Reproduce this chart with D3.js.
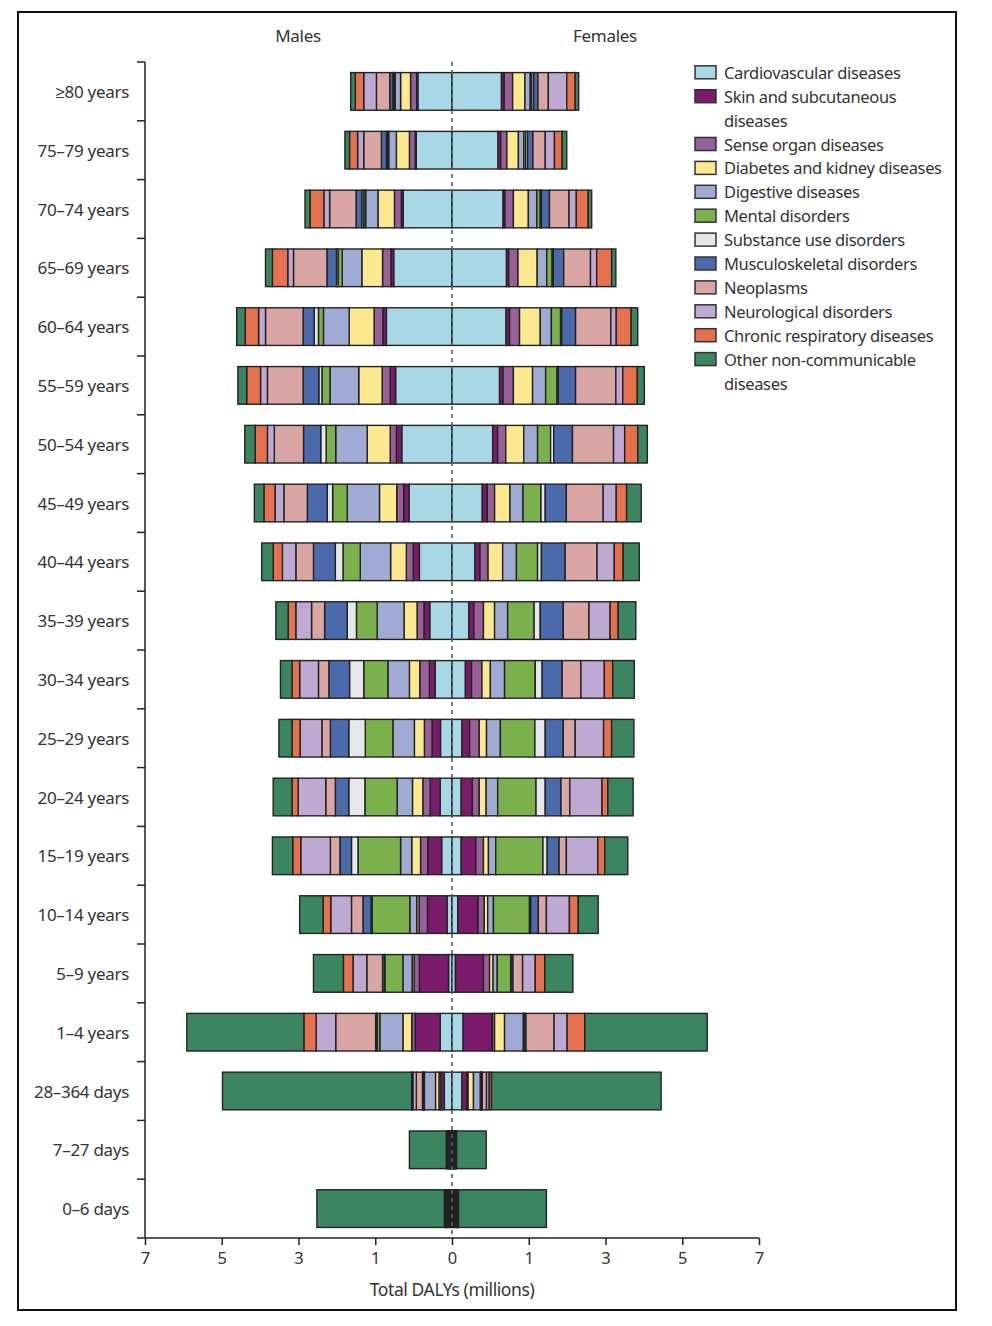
<!DOCTYPE html>
<html>
<head>
<meta charset="utf-8">
<script src="https://cdn.jsdelivr.net/npm/d3@7"></script>
<style>
  body { margin: 0; background: #fff; }
  text { font-family: "Noto Sans", "Open Sans", sans-serif; fill: #333; }
</style>
</head>
<body>
<script>
// ---------- DATA ----------
const ageGroups = ["≥80 years","75–79 years","70–74 years","65–69 years","60–64 years","55–59 years",
  "50–54 years","45–49 years","40–44 years","35–39 years","30–34 years","25–29 years","20–24 years",
  "15–19 years","10–14 years","5–9 years","1–4 years","28–364 days","7–27 days","0–6 days"];

const causes = ["Cardiovascular diseases","Skin and subcutaneous diseases","Sense organ diseases",
  "Diabetes and kidney diseases","Digestive diseases","Mental disorders","Substance use disorders",
  "Musculoskeletal disorders","Neoplasms","Neurological disorders","Chronic respiratory diseases",
  "Other non-communicable diseases"];

const causeColors = ["#a8d7e5","#7b1b6b","#98609b","#fce88f","#a0abd4","#7bb14d","#e6e7e9",
  "#4b6aab","#d9a6a3","#bea9d2","#e6714f","#3b8661"];

const legendLines = [["Cardiovascular diseases"],["Skin and subcutaneous","diseases"],["Sense organ diseases"],
  ["Diabetes and kidney diseases"],["Digestive diseases"],["Mental disorders"],["Substance use disorders"],
  ["Musculoskeletal disorders"],["Neoplasms"],["Neurological disorders"],["Chronic respiratory diseases"],
  ["Other non-communicable","diseases"]];

// DALYs (millions), one row per age group, values in the order of `causes`
const malesDALYs = [
  [0.89,0.03,0.16,0.26,0.14,0.03,0.03,0.08,0.35,0.33,0.22,0.12],
  [0.93,0.03,0.15,0.34,0.20,0.03,0.03,0.13,0.46,0.16,0.21,0.12],
  [1.27,0.05,0.18,0.43,0.32,0.05,0.05,0.15,0.69,0.15,0.36,0.13],
  [1.52,0.07,0.22,0.54,0.51,0.11,0.04,0.25,0.87,0.15,0.40,0.18],
  [1.71,0.09,0.23,0.65,0.67,0.13,0.11,0.29,0.98,0.18,0.35,0.22],
  [1.47,0.14,0.21,0.61,0.75,0.21,0.08,0.41,0.93,0.18,0.36,0.23],
  [1.31,0.14,0.16,0.60,0.82,0.25,0.14,0.45,0.76,0.18,0.32,0.27],
  [1.12,0.14,0.18,0.45,0.84,0.38,0.14,0.52,0.61,0.23,0.29,0.25],
  [0.85,0.16,0.18,0.41,0.79,0.45,0.20,0.57,0.46,0.35,0.24,0.30],
  [0.58,0.15,0.18,0.34,0.70,0.54,0.24,0.59,0.34,0.41,0.20,0.32],
  [0.44,0.15,0.25,0.27,0.56,0.63,0.37,0.54,0.27,0.49,0.20,0.30],
  [0.30,0.22,0.20,0.26,0.56,0.72,0.43,0.48,0.22,0.57,0.21,0.34],
  [0.31,0.26,0.19,0.27,0.40,0.84,0.42,0.35,0.25,0.72,0.16,0.49],
  [0.27,0.36,0.19,0.23,0.29,1.11,0.17,0.30,0.25,0.77,0.21,0.53],
  [0.13,0.51,0.22,0.06,0.18,0.98,0.03,0.21,0.30,0.54,0.20,0.61],
  [0.09,0.76,0.14,0.05,0.24,0.47,0.01,0.05,0.41,0.36,0.25,0.78],
  [0.31,0.65,0.09,0.23,0.60,0.07,0.01,0.03,1.04,0.51,0.32,3.05],
  [0.20,0.09,0.05,0.09,0.29,0.01,0.01,0.03,0.16,0.09,0.03,4.93],
  [0.02,0.01,0.01,0.01,0.02,0.01,0.01,0.01,0.02,0.02,0.01,0.96],
  [0.03,0.02,0.01,0.02,0.03,0.01,0.01,0.01,0.02,0.02,0.02,3.32]
];
const femalesDALYs = [
  [1.29,0.07,0.22,0.32,0.14,0.04,0.05,0.11,0.27,0.48,0.22,0.09],
  [1.20,0.07,0.16,0.30,0.14,0.05,0.05,0.14,0.32,0.24,0.20,0.12],
  [1.33,0.05,0.22,0.39,0.22,0.09,0.03,0.21,0.51,0.19,0.31,0.09],
  [1.42,0.06,0.24,0.50,0.25,0.14,0.03,0.27,0.70,0.16,0.39,0.11],
  [1.41,0.09,0.26,0.54,0.29,0.24,0.03,0.36,0.92,0.14,0.39,0.17],
  [1.24,0.09,0.27,0.50,0.34,0.30,0.03,0.45,1.05,0.18,0.38,0.18],
  [1.06,0.13,0.21,0.47,0.36,0.34,0.08,0.49,1.07,0.29,0.34,0.25],
  [0.79,0.13,0.19,0.40,0.34,0.47,0.11,0.55,0.96,0.34,0.27,0.38],
  [0.60,0.13,0.21,0.38,0.36,0.55,0.10,0.62,0.83,0.45,0.23,0.42],
  [0.44,0.13,0.25,0.29,0.34,0.69,0.16,0.60,0.67,0.55,0.21,0.46],
  [0.35,0.16,0.27,0.22,0.37,0.80,0.18,0.52,0.49,0.61,0.22,0.56],
  [0.26,0.20,0.25,0.19,0.36,0.90,0.27,0.47,0.31,0.74,0.21,0.58],
  [0.24,0.29,0.18,0.18,0.30,1.00,0.24,0.41,0.23,0.84,0.15,0.66],
  [0.24,0.38,0.20,0.13,0.19,1.23,0.11,0.31,0.19,0.82,0.18,0.60],
  [0.15,0.53,0.16,0.09,0.15,0.94,0.03,0.20,0.21,0.60,0.23,0.52],
  [0.09,0.73,0.16,0.09,0.11,0.35,0.01,0.05,0.25,0.33,0.25,0.73],
  [0.29,0.76,0.06,0.26,0.49,0.01,0.01,0.05,0.73,0.34,0.46,3.19],
  [0.26,0.13,0.03,0.14,0.18,0.01,0.01,0.03,0.11,0.07,0.06,4.42],
  [0.02,0.01,0.01,0.01,0.01,0.01,0.01,0.01,0.01,0.01,0.01,0.77],
  [0.03,0.02,0.01,0.02,0.02,0.01,0.01,0.01,0.02,0.01,0.01,2.29]
];

const tickValues = [-8,-6,-4,-2,0,2,4,6,8];
const tickLabels = ["7","5","3","1","0","1","3","5","7"];

// ---------- CHART ----------
const W = 992, H = 1326;
const svg = d3.select("body").append("svg").attr("width", W).attr("height", H);

svg.append("rect").attr("x",18).attr("y",12).attr("width",938).attr("height",1298)
  .attr("fill","none").attr("stroke","#111").attr("stroke-width",2);

const x = d3.scaleLinear().domain([-8, 8]).range([145, 759]);
const y = d3.scaleBand().domain(ageGroups).range([62, 1238]).paddingInner(0.36).paddingOuter(0.18);
const color = d3.scaleOrdinal().domain(causes).range(causeColors);

function toTable(arr) {
  return ageGroups.map((a, i) => {
    const o = { age: a };
    causes.forEach((c, j) => o[c] = arr[i][j]);
    return o;
  });
}
const stack = d3.stack().keys(causes);
const maleSeries = stack(toTable(malesDALYs));
const femaleSeries = stack(toTable(femalesDALYs));

const bars = svg.append("g");
function drawSide(series, sign) {
  bars.append("g").selectAll("g").data(series).join("g")
    .attr("fill", d => color(d.key))
    .selectAll("rect").data(d => d).join("rect")
      .attr("x", d => sign < 0 ? x(-d[1]) : x(d[0]))
      .attr("width", d => Math.abs(x(d[1]) - x(d[0])))
      .attr("y", d => y(d.data.age))
      .attr("height", y.bandwidth())
      .attr("stroke", "#222")
      .attr("stroke-width", 1.4);
}
drawSide(maleSeries, -1);
drawSide(femaleSeries, 1);

// center dashed line
svg.append("line").attr("x1", x(0)).attr("x2", x(0)).attr("y1", 62).attr("y2", 1238)
  .attr("stroke", "#4d5d70").attr("stroke-width", 1.6).attr("stroke-dasharray", "4,4");

// left axis with band-boundary ticks
const leftX = x(-8);
svg.append("line").attr("x1", leftX).attr("x2", leftX).attr("y1", 62).attr("y2", 1238)
  .attr("stroke", "#222").attr("stroke-width", 1.5);
const halfGap = y.step() * y.paddingInner() / 2;
svg.append("g").selectAll("line").data(ageGroups).join("line")
  .attr("x1", leftX - 8).attr("x2", leftX)
  .attr("y1", d => y(d) - halfGap).attr("y2", d => y(d) - halfGap)
  .attr("stroke", "#222").attr("stroke-width", 1.5);
svg.append("g").selectAll("text").data(ageGroups).join("text")
  .attr("x", 129).attr("y", d => y(d) + y.bandwidth() / 2)
  .attr("text-anchor", "end").attr("dominant-baseline", "central")
  .attr("font-size", 17).attr("letter-spacing", -0.3)
  .text(d => d);

// bottom axis
const xAxis = d3.axisBottom(x).tickValues(tickValues)
  .tickFormat((d, i) => tickLabels[i]).tickSize(7).tickPadding(7).tickSizeOuter(0);
const gx = svg.append("g").attr("transform", "translate(0,1238)").call(xAxis);
gx.select(".domain").remove();
gx.selectAll(".tick line").attr("stroke", "#222").attr("stroke-width", 1.5);
gx.selectAll(".tick text").attr("font-size", 16.5).attr("font-family", "Noto Sans, sans-serif").attr("fill", "#333");
svg.append("line").attr("x1", leftX - 8).attr("x2", x(8)).attr("y1", 1238).attr("y2", 1238)
  .attr("stroke", "#222").attr("stroke-width", 1.5);

svg.append("text").attr("x", x(0)).attr("y", 1289).attr("text-anchor", "middle")
  .attr("dominant-baseline", "central").attr("font-size", 17.5).attr("letter-spacing", -0.4)
  .text("Total DALYs (millions)");

// side titles
svg.append("text").attr("x", 298).attr("y", 35).attr("text-anchor", "middle")
  .attr("dominant-baseline", "central").attr("font-size", 17).attr("letter-spacing", -0.3).text("Males");
svg.append("text").attr("x", 605).attr("y", 35).attr("text-anchor", "middle")
  .attr("dominant-baseline", "central").attr("font-size", 17).attr("letter-spacing", -0.3).text("Females");

// legend
const legend = svg.append("g");
let line = 0;
const lineH = 23.9, ly0 = 72.3;
causes.forEach((c, i) => {
  const yy = ly0 + line * lineH;
  legend.append("rect").attr("x", 695).attr("y", yy - 6.5).attr("width", 21).attr("height", 13)
    .attr("fill", color(c)).attr("stroke", "#333").attr("stroke-width", 1.5);
  legendLines[i].forEach((t, k) => {
    legend.append("text").attr("x", 724).attr("y", yy + k * lineH)
      .attr("dominant-baseline", "central").attr("font-size", 16.5).attr("letter-spacing", -0.35)
      .text(t);
  });
  line += legendLines[i].length;
});
</script>
</body>
</html>
